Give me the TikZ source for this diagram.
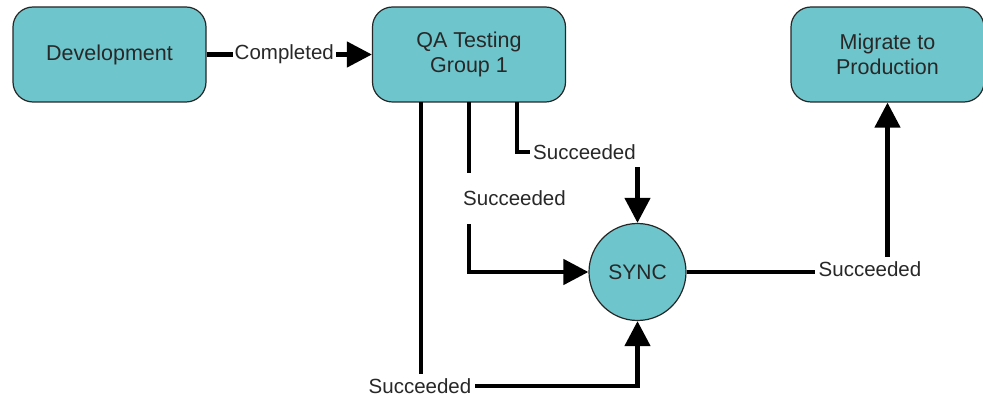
\documentclass[tikz,border=0pt]{standalone}
\usepackage{fontspec}
\setmainfont{Liberation Sans}
\usetikzlibrary{arrows.meta,calc}
\definecolor{tealfill}{RGB}{110,197,203}
\definecolor{txt}{RGB}{40,40,40}
\tikzset{
  box/.style={draw=black!85, line width=1.2pt, fill=tealfill, rounded corners=20pt,
    minimum width=193pt, minimum height=95pt, align=center, text=txt,
    font=\fontsize{21.5pt}{25pt}\selectfont},
  circ/.style={draw=black!85, line width=1.2pt, fill=tealfill, circle, minimum size=97pt,
    inner sep=0pt, text=txt, font=\fontsize{21pt}{25pt}\selectfont},
  conn/.style={line width=4.5pt, -{Triangle[length=25pt,width=25pt]}},
  lbl/.style={fill=white, inner sep=2pt, text=txt, font=\fontsize{20.5pt}{24pt}\selectfont}
}
\begin{document}
\begin{tikzpicture}[x=1pt,y=-1pt]
\useasboundingbox (0,0) rectangle (983,398);
\node[box] (dev) at (109.5,54.5) {Development};
\node[box] (qa) at (469,54.5) {QA Testing\\Group 1};
\node[box] (mig) at (887.5,54.5) {Migrate to\\Production};
\node[circ] (sync) at (637.5,272) {SYNC};
\coordinate (qa1) at (421,102);
\coordinate (qa2) at (469,102);
\coordinate (qa3) at (517,102);
\coordinate (k3) at (637.5,152);
\coordinate (k1) at (637.5,386);
% Development -> QA
\draw[conn] (dev.east) -- node[lbl, pos=0.47] {Completed} (qa.west);
% right branch
\draw[conn] (qa3) |- (k3) -- (sync.north);
\node[lbl, anchor=west, inner xsep=3pt, minimum height=31pt] (l3) at (530,152) {Succeeded\hspace*{8pt}\mbox{}};
% middle branch
\draw[conn] (qa2) |- (sync.west);
\node[lbl, anchor=west, minimum height=51pt, inner xsep=3pt] (l2) at (460,198.5) {Succeeded};
% left branch
\draw[conn] (qa1) |- (k1) -- (sync.south);
\node[lbl, inner sep=4pt] (l1) at (420,386) {Succeeded};
% SYNC -> Migrate
\draw[conn] (sync.east) -| (mig.south);
\node[lbl, inner sep=4pt] (l5) at (870,269) {Succeeded};
\end{tikzpicture}
\end{document}
